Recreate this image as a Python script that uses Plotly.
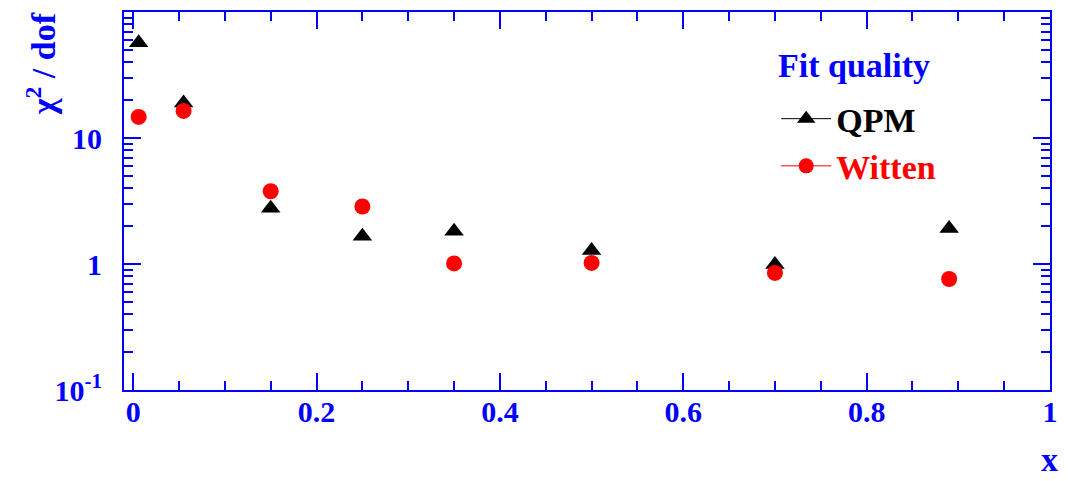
import plotly.graph_objects as go

# Data
x_vals = [0.006, 0.055, 0.15, 0.25, 0.35, 0.5, 0.7, 0.89]
qpm_vals = [57.0, 19.0, 2.77, 1.66, 1.82, 1.28, 0.99, 1.91]
witten_vals = [14.7, 16.4, 3.78, 2.86, 1.01, 1.02, 0.85, 0.76]

x_tickvals = [0, 0.2, 0.4, 0.6, 0.8, 1.0]
x_ticktext = ["0", "0.2", "0.4", "0.6", "0.8", "1"]
y_tickvals = [0.1, 1, 10]
y_ticktext = ["10<sup>-1</sup>", "1", "10"]
y_minor = [m * d for d in (0.1, 1, 10) for m in range(2, 10)]

BLUE = "#0000ff"
FONT = "Liberation Serif"

fig = go.Figure()

# data traces
fig.add_trace(go.Scatter(x=x_vals, y=qpm_vals, mode="markers", showlegend=False,
                         marker=dict(symbol="triangle-up", size=17, color="black")))
fig.add_trace(go.Scatter(x=x_vals, y=witten_vals, mode="markers", showlegend=False,
                         marker=dict(symbol="circle", size=16, color="red")))

# legend entries (marker with line, like ROOT "lp")
fig.add_trace(go.Scatter(x=[None], y=[None], mode="lines+markers",
                         name="<span style='color:black'>QPM</span>",
                         line=dict(color="black", width=1),
                         marker=dict(symbol="triangle-up", size=16, color="black")))
fig.add_trace(go.Scatter(x=[None], y=[None], mode="lines+markers",
                         name="<span style='color:red'>Witten</span>",
                         line=dict(color="red", width=1),
                         marker=dict(symbol="circle", size=15, color="red")))

fig.update_layout(
    width=1068, height=481,
    margin=dict(l=124, r=10, t=11, b=91),
    paper_bgcolor="white", plot_bgcolor="white",
    font=dict(family=FONT, color=BLUE),
    legend=dict(
        x=0.7043, y=0.7935, xanchor="left", yanchor="top",
        bgcolor="rgba(0,0,0,0)",
        itemwidth=50,
        font=dict(family=FONT, size=34, color="black", weight="bold"),
        tracegroupgap=0,
    ),
    xaxis=dict(
        range=[-0.01, 1.0],
        showline=True, linecolor=BLUE, linewidth=2, mirror="allticks",
        showgrid=False, zeroline=False,
        ticks="inside", ticklen=17, tickwidth=1.5, tickcolor=BLUE,
        tickmode="array", tickvals=x_tickvals, ticktext=x_ticktext,
        tickfont=dict(family=FONT, size=30, color=BLUE, weight="bold"),
        ticklabelstandoff=-6,
        minor=dict(ticks="inside", ticklen=9, tickwidth=1.5, tickcolor=BLUE, dtick=0.05, tick0=0),
    ),
    yaxis=dict(
        type="log", range=[-1, 2],
        showline=True, linecolor=BLUE, linewidth=2, mirror="allticks",
        showgrid=False, zeroline=False,
        ticks="inside", ticklen=17, tickwidth=1.5, tickcolor=BLUE,
        tickmode="array", tickvals=y_tickvals, ticktext=y_ticktext,
        tickfont=dict(family=FONT, size=30, color=BLUE, weight="bold"),
        ticklabelstandoff=14,
        minor=dict(ticks="inside", ticklen=9, tickwidth=1.5, tickcolor=BLUE,
                   tickmode="array", tickvals=y_minor),
    ),
)

fig.add_annotation(text="Fit quality", xref="paper", yref="paper",
                   x=(782 - 124) / 934, y=(390 - 65) / 379,
                   xanchor="left", yanchor="middle", showarrow=False,
                   font=dict(family=FONT, size=34, color=BLUE, weight="bold"))
fig.add_annotation(text="χ<sup>2</sup> / dof", textangle=-90,
                   xref="paper", yref="paper", x=-0.09, y=1.005,
                   xanchor="center", yanchor="top", showarrow=False,
                   font=dict(family=FONT, size=34, color=BLUE, weight="bold"))
fig.add_annotation(text="x", xref="paper", yref="paper", x=0.999, y=-0.236,
                   xanchor="center", yanchor="bottom", showarrow=False, borderpad=0,
                   font=dict(family=FONT, size=34, color=BLUE, weight="bold"))

fig.write_html("out.html")
